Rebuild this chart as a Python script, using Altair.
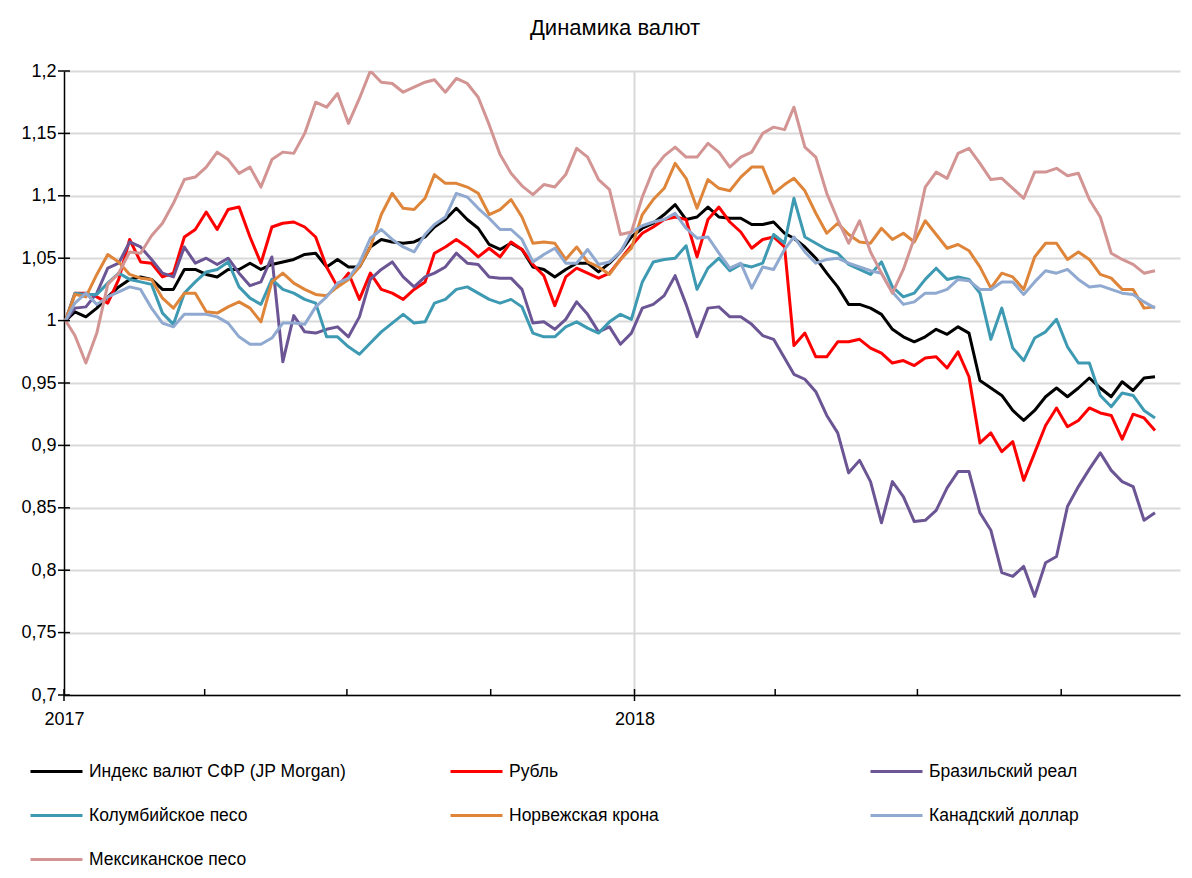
import altair as alt
import pandas as pd

series_names = ["Индекс валют СФР (JP Morgan)", "Рубль", "Бразильский реал",
                "Колумбийское песо", "Норвежская крона", "Канадский доллар", "Мексиканское песо"]
series_colors = ["#000000", "#FF0000", "#6B5594", "#3E9AB2", "#DE853A", "#90A9D0", "#D39494"]

# roughly weekly observations, 2 Jan 2017 .. 30 Nov 2018
dates = pd.date_range("2017-01-02", "2018-11-30", periods=101).normalize().strftime("%Y-%m-%d").tolist()

jpm = [1.000, 1.007, 1.003, 1.010, 1.019, 1.027, 1.033, 1.035, 1.033, 1.025,
       1.025, 1.041, 1.041, 1.037, 1.035, 1.041, 1.041, 1.046, 1.041, 1.045,
       1.047, 1.049, 1.053, 1.054, 1.043, 1.049, 1.043, 1.043, 1.059, 1.065,
       1.063, 1.062, 1.063, 1.067, 1.075, 1.081, 1.090, 1.081, 1.074, 1.061,
       1.057, 1.062, 1.057, 1.043, 1.041, 1.035, 1.041, 1.046, 1.046, 1.039,
       1.046, 1.055, 1.067, 1.074, 1.078, 1.085, 1.093, 1.081, 1.083, 1.091,
       1.083, 1.082, 1.082, 1.077, 1.077, 1.079, 1.070, 1.066, 1.059, 1.050,
       1.038, 1.027, 1.013, 1.013, 1.010, 1.005, 0.993, 0.987, 0.983, 0.987,
       0.993, 0.989, 0.995, 0.990, 0.952, 0.946, 0.940, 0.928, 0.920, 0.928,
       0.939, 0.946, 0.939, 0.946, 0.954, 0.946, 0.939, 0.951, 0.944, 0.954,
       0.955]
rub = [1.000, 1.022, 1.022, 1.019, 1.014, 1.033, 1.065, 1.047, 1.046, 1.035,
       1.038, 1.067, 1.073, 1.087, 1.073, 1.089, 1.091, 1.067, 1.046, 1.075,
       1.078, 1.079, 1.075, 1.067, 1.043, 1.027, 1.038, 1.017, 1.038, 1.025,
       1.022, 1.017, 1.025, 1.031, 1.054, 1.059, 1.065, 1.059, 1.051, 1.058,
       1.051, 1.063, 1.057, 1.045, 1.036, 1.012, 1.035, 1.042, 1.038, 1.034,
       1.038, 1.049, 1.060, 1.070, 1.075, 1.081, 1.083, 1.081, 1.051, 1.081,
       1.091, 1.079, 1.071, 1.058, 1.065, 1.067, 1.059, 0.980, 0.990, 0.971,
       0.971, 0.983, 0.983, 0.985, 0.978, 0.974, 0.966, 0.968, 0.964, 0.970,
       0.971, 0.962, 0.975, 0.955, 0.902, 0.910, 0.895, 0.903, 0.872, 0.894,
       0.916, 0.930, 0.915, 0.920, 0.930, 0.926, 0.924, 0.905, 0.925, 0.922,
       0.912]
brl = [1.000, 1.010, 1.011, 1.022, 1.042, 1.046, 1.063, 1.059, 1.049, 1.038,
       1.035, 1.059, 1.046, 1.050, 1.045, 1.050, 1.038, 1.028, 1.031, 1.051,
       0.967, 1.004, 0.991, 0.990, 0.993, 0.995, 0.987, 1.003, 1.033, 1.041,
       1.047, 1.035, 1.027, 1.035, 1.038, 1.043, 1.054, 1.046, 1.045, 1.035,
       1.034, 1.034, 1.025, 0.998, 0.999, 0.993, 1.001, 1.015, 1.005, 0.991,
       0.995, 0.981, 0.990, 1.010, 1.013, 1.020, 1.036, 1.013, 0.987, 1.010,
       1.011, 1.003, 1.003, 0.997, 0.988, 0.985, 0.970, 0.957, 0.953, 0.943,
       0.924, 0.910, 0.878, 0.888, 0.871, 0.838, 0.871, 0.859, 0.839, 0.840,
       0.848, 0.866, 0.879, 0.879, 0.846, 0.832, 0.798, 0.795, 0.803, 0.779,
       0.806, 0.811, 0.851, 0.867, 0.881, 0.894, 0.880, 0.871, 0.867, 0.840,
       0.846]
cop = [1.000, 1.022, 1.021, 1.021, 1.030, 1.038, 1.033, 1.031, 1.029, 1.006,
       0.997, 1.022, 1.031, 1.039, 1.041, 1.047, 1.027, 1.018, 1.013, 1.033,
       1.025, 1.022, 1.017, 1.014, 0.987, 0.987, 0.979, 0.973, 0.982, 0.991,
       0.998, 1.005, 0.998, 0.999, 1.014, 1.017, 1.025, 1.027, 1.022, 1.017,
       1.014, 1.017, 1.011, 0.990, 0.987, 0.987, 0.995, 0.999, 0.994, 0.990,
       0.999, 1.005, 1.001, 1.031, 1.047, 1.049, 1.050, 1.060, 1.025, 1.042,
       1.050, 1.040, 1.045, 1.043, 1.046, 1.069, 1.062, 1.098, 1.067, 1.062,
       1.057, 1.054, 1.045, 1.041, 1.037, 1.047, 1.027, 1.019, 1.022, 1.033,
       1.042, 1.033, 1.035, 1.033, 1.022, 0.985, 1.010, 0.978, 0.968, 0.986,
       0.991, 1.001, 0.979, 0.966, 0.966, 0.940, 0.931, 0.942, 0.940, 0.928,
       0.922]
nok = [1.000, 1.021, 1.019, 1.037, 1.053, 1.047, 1.037, 1.034, 1.033, 1.018,
       1.010, 1.022, 1.022, 1.007, 1.006, 1.011, 1.015, 1.010, 0.999, 1.031,
       1.038, 1.030, 1.025, 1.021, 1.020, 1.027, 1.033, 1.043, 1.059, 1.085,
       1.102, 1.090, 1.089, 1.098, 1.117, 1.110, 1.110, 1.107, 1.102, 1.085,
       1.089, 1.097, 1.083, 1.062, 1.063, 1.062, 1.049, 1.059, 1.047, 1.043,
       1.037, 1.049, 1.058, 1.085, 1.097, 1.106, 1.126, 1.114, 1.090, 1.113,
       1.106, 1.104, 1.115, 1.123, 1.123, 1.102, 1.109, 1.114, 1.104, 1.086,
       1.070, 1.078, 1.069, 1.063, 1.062, 1.074, 1.065, 1.070, 1.063, 1.080,
       1.069, 1.058, 1.061, 1.056, 1.043, 1.026, 1.038, 1.035, 1.025, 1.051,
       1.062, 1.062, 1.049, 1.055, 1.049, 1.037, 1.034, 1.025, 1.025, 1.010,
       1.011]
cad = [1.000, 1.014, 1.022, 1.013, 1.019, 1.023, 1.027, 1.025, 1.010, 0.998,
       0.995, 1.005, 1.005, 1.005, 1.003, 0.998, 0.987, 0.981, 0.981, 0.986,
       0.998, 0.998, 0.997, 1.011, 1.019, 1.030, 1.034, 1.046, 1.066, 1.073,
       1.065, 1.059, 1.055, 1.069, 1.077, 1.083, 1.102, 1.099, 1.090, 1.082,
       1.073, 1.073, 1.065, 1.047, 1.053, 1.058, 1.046, 1.046, 1.057, 1.045,
       1.047, 1.055, 1.071, 1.076, 1.079, 1.081, 1.086, 1.074, 1.066, 1.067,
       1.054, 1.042, 1.046, 1.026, 1.043, 1.041, 1.057, 1.067, 1.055, 1.046,
       1.049, 1.050, 1.046, 1.043, 1.040, 1.038, 1.023, 1.013, 1.015, 1.022,
       1.022, 1.025, 1.033, 1.032, 1.025, 1.025, 1.031, 1.031, 1.021, 1.031,
       1.040, 1.038, 1.041, 1.033, 1.027, 1.028, 1.025, 1.022, 1.021, 1.015,
       1.010]
mxn = [1.000, 0.988, 0.966, 0.990, 1.029, 1.038, 1.055, 1.054, 1.068, 1.078,
       1.094, 1.113, 1.115, 1.123, 1.135, 1.129, 1.118, 1.123, 1.107, 1.129,
       1.135, 1.134, 1.150, 1.175, 1.171, 1.182, 1.158, 1.178, 1.200, 1.191,
       1.190, 1.183, 1.187, 1.191, 1.193, 1.183, 1.194, 1.190, 1.179, 1.157,
       1.133, 1.118, 1.108, 1.101, 1.109, 1.107, 1.117, 1.138, 1.131, 1.113,
       1.105, 1.069, 1.071, 1.099, 1.121, 1.132, 1.139, 1.131, 1.131, 1.142,
       1.135, 1.123, 1.131, 1.135, 1.150, 1.155, 1.153, 1.171, 1.139, 1.131,
       1.102, 1.081, 1.062, 1.080, 1.055, 1.038, 1.022, 1.041, 1.066, 1.107,
       1.119, 1.114, 1.134, 1.138, 1.126, 1.113, 1.114, 1.106, 1.098, 1.119,
       1.119, 1.122, 1.116, 1.118, 1.097, 1.083, 1.054, 1.049, 1.045, 1.038,
       1.040]

y_ticks = [0.7, 0.75, 0.8, 0.85, 0.9, 0.95, 1.0, 1.05, 1.1, 1.15, 1.2]
year_starts = ["2017-01-01", "2018-01-01"]
quarter_starts = ["2017-04-01", "2017-07-01", "2017-10-01", "2018-04-01", "2018-07-01", "2018-10-01"]
grid_years = ["2018-01-01"]

rows = []
for name, vals in zip(series_names, [jpm, rub, brl, cop, nok, cad, mxn]):
    for d, v in zip(dates, vals):
        rows.append({"date": d, "value": v, "series": name})
df = pd.DataFrame(rows)

W, H = 1116, 624
FONT = "Liberation Sans"

x_scale = alt.Scale(type="utc", domain=[alt.DateTime(year=2017, month=1, date=1, utc=True),
                                        alt.DateTime(year=2018, month=12, date=16, utc=True)])
y_scale = alt.Scale(domain=[0.7, 1.2], zero=False, nice=False)

x_axis = alt.Axis(values=[alt.DateTime(year=2017, month=1, date=1, utc=True),
                          alt.DateTime(year=2018, month=1, date=1, utc=True)],
                  labelExpr="utcFormat(datum.value, '%Y')", grid=False, ticks=False,
                  labelFlush=False, labelPadding=15, title=None, domainColor="black", domainWidth=1.5)
y_axis = alt.Axis(values=y_ticks, labelExpr="replace(format(datum.value, '~g'), '.', ',')",
                  grid=True, gridColor="#D9D9D9", gridWidth=2, ticks=False, labelPadding=8,
                  title=None, domainColor="black", domainWidth=1.5)

vgrid = alt.Chart(pd.DataFrame({"date": grid_years})).mark_rule(color="#D9D9D9", strokeWidth=2).encode(
    x=alt.X("date:T", scale=x_scale, axis=x_axis))

lines = alt.Chart(df).mark_line(strokeWidth=3, clip=True, strokeJoin="round").encode(
    x=alt.X("date:T", scale=x_scale, axis=x_axis),
    y=alt.Y("value:Q", scale=y_scale, axis=y_axis),
    color=alt.Color("series:N", sort=series_names,
                    scale=alt.Scale(domain=series_names, range=series_colors),
                    legend=alt.Legend(title=None, orient="none", legendX=-35, legendY=673,
                                      direction="horizontal", columns=3,
                                      symbolType="stroke", symbolSize=2704,
                                      symbolStrokeWidth=3, labelFontSize=17.5, labelFont=FONT,
                                      labelColor="black", columnPadding=97, rowPadding=8,
                                      gridAlign="all", labelOffset=5, labelLimit=500)),
)

minor_ticks = alt.Chart(pd.DataFrame({"date": quarter_starts})).mark_rule(color="black", strokeWidth=1.5).encode(
    x=alt.X("date:T", scale=x_scale, axis=x_axis), y=alt.value(H - 6), y2=alt.value(H))
major_ticks = alt.Chart(pd.DataFrame({"date": year_starts})).mark_rule(color="black", strokeWidth=1.5).encode(
    x=alt.X("date:T", scale=x_scale, axis=x_axis), y=alt.value(H - 6), y2=alt.value(H + 6))
y_tick_marks = alt.Chart(pd.DataFrame({"value": y_ticks})).mark_rule(color="black", strokeWidth=1.5).encode(
    y=alt.Y("value:Q", scale=y_scale, axis=y_axis), x=alt.value(-6), x2=alt.value(6))

chart = alt.layer(vgrid, lines, minor_ticks, major_ticks, y_tick_marks).properties(
    width=W, height=H,
    title=alt.TitleParams("Динамика валют", fontSize=22, font=FONT, fontWeight="normal",
                          color="black", baseline="alphabetic", offset=5, dx=-7, anchor="middle"),
    autosize=alt.AutoSizeParams(type="none"),
    padding={"left": 56, "top": 63, "right": 4, "bottom": 175},
).configure_view(stroke=None).configure_axis(
    labelFont=FONT, labelFontSize=18, labelColor="black"
)

chart.save("out.html", embed_options={"renderer": "svg", "actions": False})
